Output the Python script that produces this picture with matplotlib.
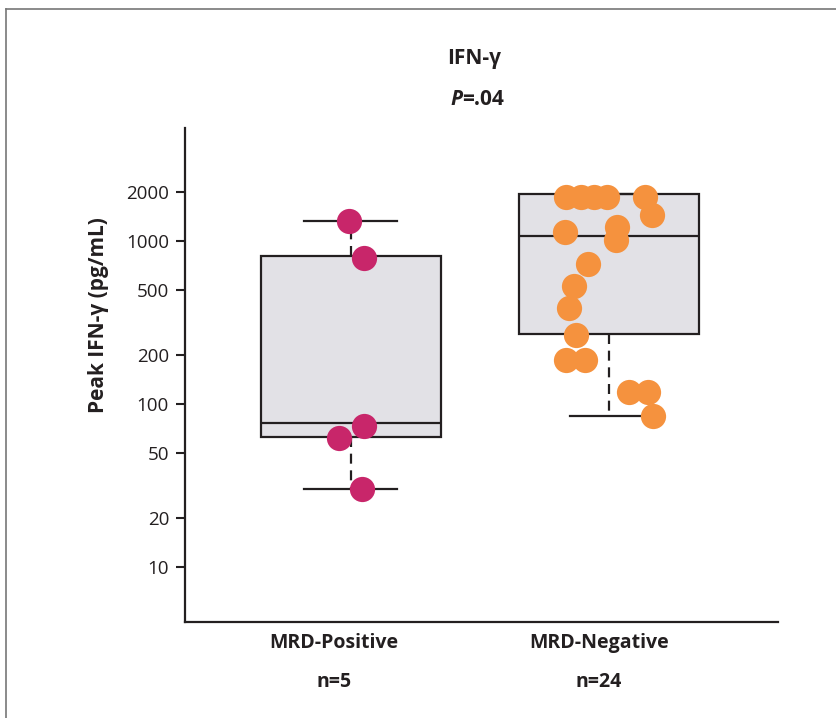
import matplotlib.pyplot as plt
from matplotlib.lines import Line2D
import numpy as np

plt.rcParams['font.family'] = ['Open Sans', 'DejaVu Sans']

groups = ['MRD-Positive', 'MRD-Negative']
counts = ['n=5', 'n=24']

# box statistics (pg/mL)
q1 = [63, 268]
med = [77, 1073]
q3 = [809, 1942]
whislo = [30, 84]
whishi = [1330, 1942]

pos_vals = [1330, 790, 73, 62, 30]
pos_jit = [-0.008, 0.05, 0.05, -0.047, 0.043]

neg_vals = [1870, 1870, 1870, 1870, 1870, 1444, 1131, 1224, 1014, 720,
            530, 387, 265, 185, 186, 119, 119, 84]
neg_jit = [-0.168, -0.11, -0.058, -0.009, 0.14, 0.168, -0.17, 0.032, 0.026, -0.083,
           -0.136, -0.155, -0.128, -0.167, -0.093, 0.078, 0.152, 0.169]

yticks = [10, 20, 50, 100, 200, 500, 1000, 2000]

fig = plt.figure(figsize=(8.36, 7.18), dpi=100)
ax = fig.add_axes([0.2213, 0.1337, 0.7093, 0.688])

stats = []
for i in range(2):
    stats.append(dict(q1=q1[i], med=med[i], q3=q3[i], whislo=whislo[i], whishi=whishi[i], fliers=[]))

ink = '#231f20'
ax.bxp(stats, positions=[0, 1], widths=0.70, capwidths=[0.36, 0.30], patch_artist=True,
       showfliers=False,
       boxprops=dict(facecolor='#e2e1e6', edgecolor=ink, linewidth=1.6),
       medianprops=dict(color=ink, linewidth=1.6),
       whiskerprops=dict(color=ink, linewidth=1.6, linestyle=(0, (4.5, 3))),
       capprops=dict(color=ink, linewidth=1.6))

ax.scatter(0 + np.array(pos_jit), pos_vals, s=330, color='#c8266a', zorder=3, linewidths=0)
ax.scatter(1 + np.array(neg_jit), neg_vals, s=330, color='#f5923e', zorder=3, linewidths=0)

ax.set_yscale('log')
ax.set_ylim(4.6, 4935)
ax.set_xlim(-0.643, 1.655)
ax.set_yticks(yticks)
ax.set_yticklabels([str(t) for t in yticks])
ax.minorticks_off()
ax.tick_params(axis='y', length=6.5, width=1.5, color=ink, labelsize=13.5, labelcolor=ink, pad=5)
ax.set_xticks([])

for s in ['top', 'right']:
    ax.spines[s].set_visible(False)
for s in ['left', 'bottom']:
    ax.spines[s].set_linewidth(1.6)
    ax.spines[s].set_color(ink)

ax.set_ylabel('Peak IFN-γ (pg/mL)', fontsize=15, fontweight='bold', color=ink)
ax.yaxis.set_label_coords(-0.128, 0.621)

# category labels under the axis
label_x = [-0.066, 0.96]
for i in range(2):
    ax.text(label_x[i], -0.022, groups[i], transform=ax.get_xaxis_transform(),
            ha='center', va='top', fontsize=14, fontweight='bold', color=ink)
    ax.text(label_x[i], -0.101, counts[i], transform=ax.get_xaxis_transform(),
            ha='center', va='top', fontsize=14, fontweight='bold', color=ink)

fig.text(0.567, 0.919, 'IFN-γ', ha='center', va='center', fontsize=15, fontweight='bold', color=ink)
fig.text(0.553, 0.861, 'P', ha='right', va='center', fontsize=15, fontweight='bold',
         fontstyle='italic', color=ink)
fig.text(0.553, 0.861, '=.04', ha='left', va='center', fontsize=15, fontweight='bold', color=ink)

# thin frame at top and left of the panel
fig.add_artist(Line2D([6 / 836, 1], [1 - 9 / 718, 1 - 9 / 718], color='#777777', linewidth=1.2))
fig.add_artist(Line2D([6 / 836, 6 / 836], [0, 1 - 9 / 718], color='#777777', linewidth=1.2))

fig.savefig('out.png', dpi=100, facecolor='white')
